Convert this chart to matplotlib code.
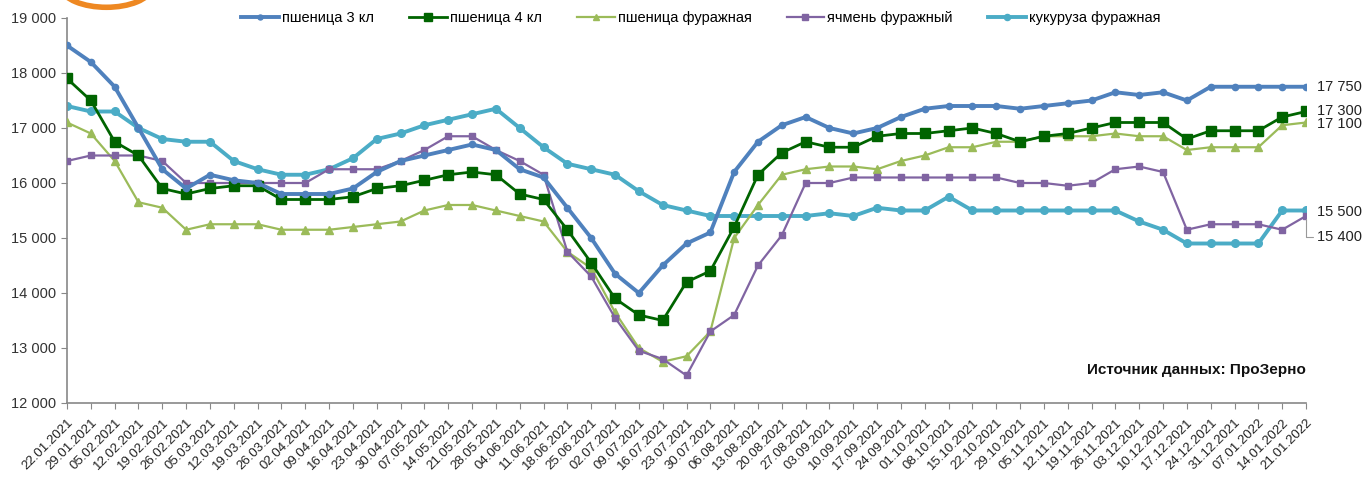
import matplotlib
matplotlib.use("Agg")
import matplotlib.pyplot as plt
from matplotlib.patches import Arc
from matplotlib.ticker import FuncFormatter, MultipleLocator

plt.rcParams['font.family'] = ['Liberation Sans', 'DejaVu Sans']

dates = ["22.01.2021", "29.01.2021", "05.02.2021", "12.02.2021", "19.02.2021", "26.02.2021",
         "05.03.2021", "12.03.2021", "19.03.2021", "26.03.2021", "02.04.2021", "09.04.2021",
         "16.04.2021", "23.04.2021", "30.04.2021", "07.05.2021", "14.05.2021", "21.05.2021",
         "28.05.2021", "04.06.2021", "11.06.2021", "18.06.2021", "25.06.2021", "02.07.2021",
         "09.07.2021", "16.07.2021", "23.07.2021", "30.07.2021", "06.08.2021", "13.08.2021",
         "20.08.2021", "27.08.2021", "03.09.2021", "10.09.2021", "17.09.2021", "24.09.2021",
         "01.10.2021", "08.10.2021", "15.10.2021", "22.10.2021", "29.10.2021", "05.11.2021",
         "12.11.2021", "19.11.2021", "26.11.2021", "03.12.2021", "10.12.2021", "17.12.2021",
         "24.12.2021", "31.12.2021", "07.01.2022", "14.01.2022", "21.01.2022"]

wheat3 = [18500, 18200, 17750, 17000, 16250, 15900, 16150, 16050, 16000, 15800, 15800, 15800,
          15900, 16200, 16400, 16500, 16600, 16700, 16600, 16250, 16100, 15550, 15000, 14350,
          14000, 14500, 14900, 15100, 16200, 16750, 17050, 17200, 17000, 16900, 17000, 17200,
          17350, 17400, 17400, 17400, 17350, 17400, 17450, 17500, 17650, 17600, 17650, 17500,
          17750, 17750, 17750, 17750, 17750]
wheat4 = [17900, 17500, 16750, 16500, 15900, 15800, 15900, 15950, 15950, 15700, 15700, 15700,
          15750, 15900, 15950, 16050, 16150, 16200, 16150, 15800, 15700, 15150, 14550, 13900,
          13600, 13500, 14200, 14400, 15200, 16150, 16550, 16750, 16650, 16650, 16850, 16900,
          16900, 16950, 17000, 16900, 16750, 16850, 16900, 17000, 17100, 17100, 17100, 16800,
          16950, 16950, 16950, 17200, 17300]
wheat_feed = [17100, 16900, 16400, 15650, 15550, 15150, 15250, 15250, 15250, 15150, 15150, 15150,
              15200, 15250, 15300, 15500, 15600, 15600, 15500, 15400, 15300, 14750, 14450, 13650,
              13000, 12750, 12850, 13300, 15000, 15600, 16150, 16250, 16300, 16300, 16250, 16400,
              16500, 16650, 16650, 16750, 16750, 16850, 16850, 16850, 16900, 16850, 16850, 16600,
              16650, 16650, 16650, 17050, 17100]
barley_feed = [16400, 16500, 16500, 16500, 16400, 16000, 16000, 16000, 16000, 16000, 16000, 16250,
               16250, 16250, 16400, 16600, 16850, 16850, 16600, 16400, 16150, 14750, 14300, 13550,
               12950, 12800, 12500, 13300, 13600, 14500, 15050, 16000, 16000, 16100, 16100, 16100,
               16100, 16100, 16100, 16100, 16000, 16000, 15950, 16000, 16250, 16300, 16200, 15150,
               15250, 15250, 15250, 15150, 15400]
corn_feed = [17400, 17300, 17300, 17000, 16800, 16750, 16750, 16400, 16250, 16150, 16150, 16250,
             16450, 16800, 16900, 17050, 17150, 17250, 17350, 17000, 16650, 16350, 16250, 16150,
             15850, 15600, 15500, 15400, 15400, 15400, 15400, 15400, 15450, 15400, 15550, 15500,
             15500, 15750, 15500, 15500, 15500, 15500, 15500, 15500, 15500, 15300, 15150, 14900,
             14900, 14900, 14900, 15500, 15500]

labels = ["пшеница 3 кл", "пшеница 4 кл", "пшеница фуражная", "ячмень фуражный", "кукуруза фуражная"]

fig = plt.figure(figsize=(13.64, 4.86), dpi=100)
ax = fig.add_axes([67/1364, 1 - 403/486, (1306 - 67)/1364, (403 - 18)/486])

x = list(range(len(dates)))
l1, = ax.plot(x, wheat3, color='#4F81BD', lw=2.8, marker='o', ms=4.5, zorder=5)
l2, = ax.plot(x, wheat4, color='#006400', lw=2.0, marker='s', ms=7.5, zorder=4)
l3, = ax.plot(x, wheat_feed, color='#9BBB59', lw=1.6, marker='^', ms=6, zorder=3)
l4, = ax.plot(x, barley_feed, color='#8064A2', lw=1.6, marker='s', ms=5, zorder=3)
l5, = ax.plot(x, corn_feed, color='#4BACC6', lw=2.8, marker='o', ms=5.5, zorder=2)

ax.set_xlim(0, len(dates) - 1)
ax.set_ylim(12000, 19000)
ax.yaxis.set_major_locator(MultipleLocator(1000))
ax.yaxis.set_major_formatter(FuncFormatter(lambda v, p: f"{int(v):,}".replace(",", " ")))
ax.set_xticks(x)
ax.set_xticklabels(dates, rotation=45, ha='right', rotation_mode='anchor', fontsize=9.5,
                   color='#222222')
ax.tick_params(axis='y', labelsize=10.5, colors='#333333', length=4, color='#888888', pad=4)
ax.tick_params(axis='x', length=4, color='#888888', pad=6)
for s in ['top', 'right']:
    ax.spines[s].set_visible(False)
for s in ['left', 'bottom']:
    ax.spines[s].set_color('#888888')
    ax.spines[s].set_linewidth(1.2)


def fmt(v):
    return f"{v:,}".replace(",", " ")


last = len(dates) - 1
lab_kw = dict(textcoords='offset points', va='center', fontsize=10.5, color='#222222',
              annotation_clip=False)
ax.annotate(fmt(wheat3[-1]), (last, wheat3[-1]), xytext=(8, 0), **lab_kw)
ax.annotate(fmt(wheat4[-1]), (last, wheat4[-1]), xytext=(8, 0), **lab_kw)
ax.annotate(fmt(wheat_feed[-1]), (last, wheat_feed[-1]), xytext=(8, -1), **lab_kw)
ax.annotate(fmt(corn_feed[-1]), (last, corn_feed[-1]), xytext=(8, -1), **lab_kw)
ax.annotate(fmt(barley_feed[-1]), (last, barley_feed[-1]), xytext=(8, -15),
            arrowprops=dict(arrowstyle='-', color='#999999', lw=0.8,
                            connectionstyle='angle,angleA=0,angleB=90,rad=0',
                            shrinkA=1, shrinkB=2), **lab_kw)

ax.text(1.0, 0.087, "Источник данных: ПроЗерно", transform=ax.transAxes, ha='right',
        va='center', fontsize=11, fontweight='bold', color='#111111')

fig.legend([l1, l2, l3, l4, l5], labels, loc='center left', bbox_to_anchor=(228/1364, 1 - 18/486),
           ncol=5, frameon=False, fontsize=10.5, handlelength=2.6, handletextpad=0.2,
           columnspacing=2.4, markerscale=0.8)

# partial orange logo arc at top-left
arc = Arc((0.078, 1.03), 0.068, 0.09, theta1=190, theta2=350, transform=fig.transFigure,
          color='#EE8822', lw=4)
fig.patches.append(arc)

fig.savefig("out.png", dpi=100)
